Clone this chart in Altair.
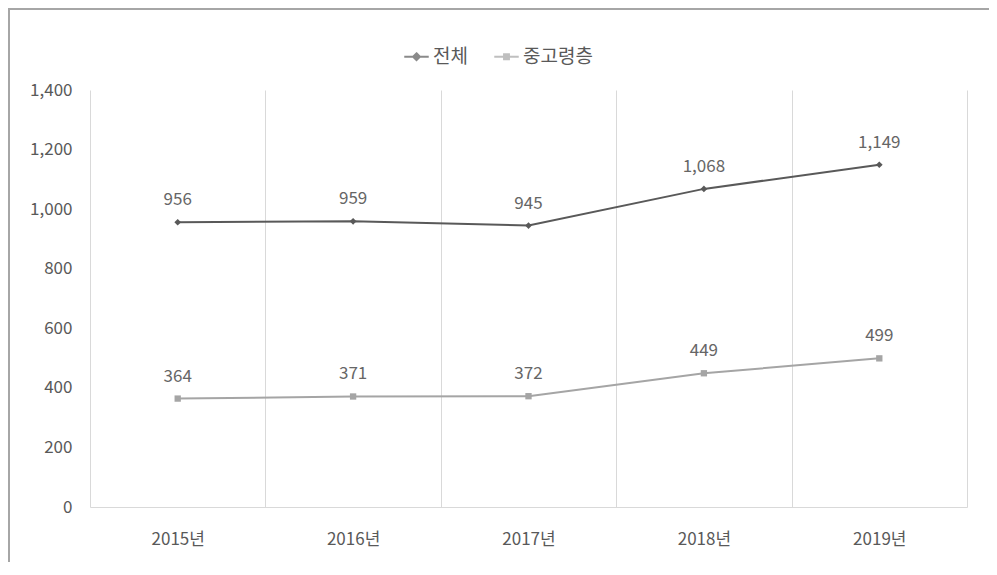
import altair as alt
import pandas as pd

years = ["2015년", "2016년", "2017년", "2018년", "2019년"]
series = ["전체", "중고령층"]
total = [956, 959, 945, 1068, 1149]
older = [364, 371, 372, 449, 499]
colors = ["#595959", "#a5a5a5"]
y_ticks = [0, 200, 400, 600, 800, 1000, 1200, 1400]

rows = []
for s, vals in zip(series, [total, older]):
    for yr, v in zip(years, vals):
        rows.append({"연도": yr, "구분": s, "값": v})
df = pd.DataFrame(rows)

FONT = "Noto Sans CJK KR"
W, H = 877, 417
PL, PT = 82, 82

color_scale = alt.Scale(domain=series, range=colors)

leg_paths = [
    "M-1,0L1,0M0,-0.28L0.28,0L0,0.28L-0.28,0ZM0,-0.14L0.14,0L0,0.14L-0.14,0Z",
    "M-1,0L1,0M-0.2,-0.2L0.2,-0.2L0.2,0.2L-0.2,0.2ZM-0.1,-0.1L0.1,-0.1L0.1,0.1L-0.1,0.1Z",
]

x_enc = alt.X(
    "연도:N",
    sort=years,
    title=None,
    scale=alt.Scale(paddingInner=0, paddingOuter=0),
    axis=alt.Axis(
        tickBand="extent",
        grid=True,
        gridColor="#d9d9d9",
        gridWidth=1,
        ticks=False,
        domain=True,
        domainColor="#d9d9d9",
        labelAngle=0,
        labelFont=FONT,
        labelFontSize=17,
        labelColor="#595959",
        labelPadding=24,
    ),
)
y_enc = alt.Y(
    "값:Q",
    title=None,
    scale=alt.Scale(domain=[0, 1400], nice=False),
    axis=alt.Axis(
        values=y_ticks,
        format=",.0f",
        grid=False,
        ticks=False,
        domain=False,
        labelFont=FONT,
        labelFontSize=17,
        labelColor="#595959",
        labelPadding=18,
    ),
)

legend_def = alt.Legend(
    title=None,
    orient="none",
    legendX=313,
    legendY=-47,
    direction="horizontal",
    symbolSize=600,
    symbolStrokeWidth=2,
    labelFont=FONT,
    labelFontSize=19,
    labelColor="#595959",
    columnPadding=22,
    labelOffset=3,
)
legend_layer = alt.Chart(df).mark_point(filled=False, strokeWidth=2).encode(
    x=alt.value(-400),
    y=alt.value(-400),
    color=alt.Color("구분:N", scale=color_scale, legend=legend_def),
    shape=alt.Shape(
        "구분:N", scale=alt.Scale(domain=series, range=leg_paths), legend=legend_def
    ),
)

base = alt.Chart(df).encode(x=x_enc, y=y_enc)

sub_total = base.transform_filter(alt.datum["구분"] == series[0])
sub_older = base.transform_filter(alt.datum["구분"] == series[1])

line_total = sub_total.mark_line(strokeWidth=2, color=colors[0])
line_older = sub_older.mark_line(strokeWidth=2, color=colors[1])
pts_total = sub_total.mark_point(
    shape="diamond", filled=True, opacity=1, size=45, color=colors[0]
)
pts_older = sub_older.mark_point(
    shape="square", filled=True, opacity=1, size=40, color=colors[1]
)

labels = base.mark_text(
    dy=-22, fontSize=17, font=FONT, color="#666666"
).encode(text=alt.Text("값:Q", format=","))

border_top = alt.Chart(df).mark_rule(color="#a6a6a6", strokeWidth=2).encode(
    x=alt.value(-PL), x2=alt.value(W + 40), y=alt.value(-PT + 1)
)
border_left = alt.Chart(df).mark_rule(color="#a6a6a6", strokeWidth=2).encode(
    x=alt.value(-PL + 1), y=alt.value(-PT), y2=alt.value(H + 60)
)

chart = (
    alt.layer(
        legend_layer, line_total, line_older, pts_total, pts_older, labels,
        border_top, border_left,
    )
    .properties(
        width=W,
        height=H,
        padding={"left": PL, "top": PT, "right": 22, "bottom": 55},
        autosize=alt.AutoSizeParams(type="none"),
        background="white",
    )
    .configure_view(stroke=None)
)

chart.save("out.html", embed_options={"renderer": "svg", "actions": False})
